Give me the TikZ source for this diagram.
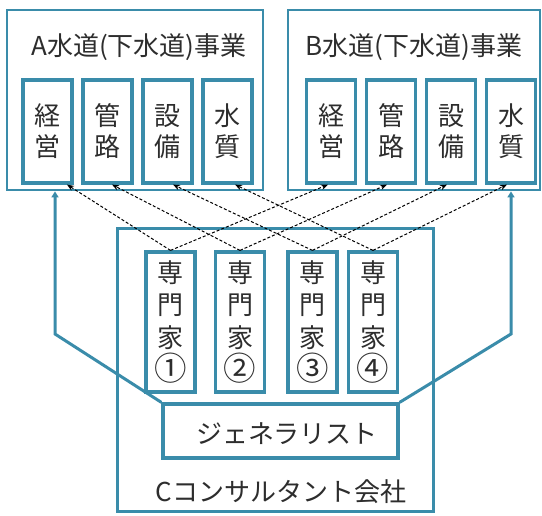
\documentclass[tikz,border=0pt]{standalone}
\usepackage{fontspec}
\setmainfont{Noto Sans CJK JP}
\usetikzlibrary{arrows.meta}
\definecolor{tealb}{RGB}{58,140,170}
\definecolor{ink}{RGB}{45,45,45}
\newcommand{\cnum}[1]{\raisebox{-1pt}{\scalebox{1.25}{#1}}}
\begin{document}
\begin{tikzpicture}[x=1pt,y=-1pt,
  outerbox/.style={draw=tealb, line width=2.8pt, inner sep=0pt},
  innerbox/.style={draw=tealb, line width=3.2pt, inner sep=0pt, text=ink,
    font=\fontsize{26}{31}\selectfont, align=center},
  expbox/.style={innerbox, minimum width=49pt, minimum height=140pt,
    font=\fontsize{26}{32.5}\selectfont},
  deptbox/.style={innerbox, minimum width=49pt, minimum height=103pt},
  label/.style={text=ink, font=\fontsize{26}{31}\selectfont, inner sep=0pt},
  darr/.style={draw=black, line width=1pt, dash pattern=on 3pt off 2pt,
    -{Stealth[length=7pt,width=5.5pt]}},
  bigarr/.style={draw=tealb, line width=3pt, line join=miter,
    -{Triangle[length=6pt,width=7pt]}},
]
\useasboundingbox (0,0) rectangle (542,516);
% A project
\node[outerbox, minimum width=256pt, minimum height=180pt] (A) at (135,100) {};
\node[label] (tA) at (139,47) {A水道(下水道)事業};
\node[deptbox] (a1) at (47.5,131.5) {経\\営};
\node[deptbox] (a2) at (107.5,131.5) {管\\路};
\node[deptbox] (a3) at (167.5,131.5) {設\\備};
\node[deptbox] (a4) at (227.5,131.5) {水\\質};
% B project
\node[outerbox, minimum width=252pt, minimum height=180pt] (B) at (414,100) {};
\node[label] (tB) at (414,47) {B水道(下水道)事業};
\node[deptbox] (b1) at (331,131.5) {経\\営};
\node[deptbox] (b2) at (391,131.5) {管\\路};
\node[deptbox] (b3) at (451,131.5) {設\\備};
\node[deptbox] (b4) at (511,131.5) {水\\質};
% C consultant
\node[outerbox, line width=3pt, minimum width=316pt, minimum height=283pt] (C) at (275,370.5) {};
\node[expbox] (e1) at (170.5,322) {専\\門\\家\\\cnum{①}};
\node[expbox] (e2) at (240,322) {専\\門\\家\\\cnum{②}};
\node[expbox] (e3) at (312.5,322) {専\\門\\家\\\cnum{③}};
\node[expbox] (e4) at (373,322) {専\\門\\家\\\cnum{④}};
\node[innerbox, minimum width=235pt, minimum height=54pt] (G) at (280.5,431) {};
\node[label] (tG) at (287,434) {ジェネラリスト};
\node[label] (tC) at (281,492) {Cコンサルタント会社};
% dashed arrows
\draw[darr] (e1.north) -- ([xshift=19.5pt]a1.south);
\draw[darr] (e1.north) -- ([xshift=-3pt]b1.south);
\draw[darr] (e2.north) -- ([xshift=4.5pt]a2.south);
\draw[darr] (e2.north) -- ([xshift=-4pt]b2.south);
\draw[darr] (e3.north) -- ([xshift=5.5pt]a3.south);
\draw[darr] (e3.north) -- ([xshift=-4pt]b3.south);
\draw[darr] (e4.north) -- ([xshift=7.5pt]a4.south);
\draw[darr] (e4.north) -- ([xshift=-4pt]b4.south);
% generalist arrows
\coordinate (kL) at (55,334);
\coordinate (kR) at (511,334);
\draw[bigarr] (G.north west) -- (kL) -- (kL |- A.south);
\draw[bigarr] (G.north east) -- (kR) -- (kR |- B.south);
\end{tikzpicture}
\end{document}
